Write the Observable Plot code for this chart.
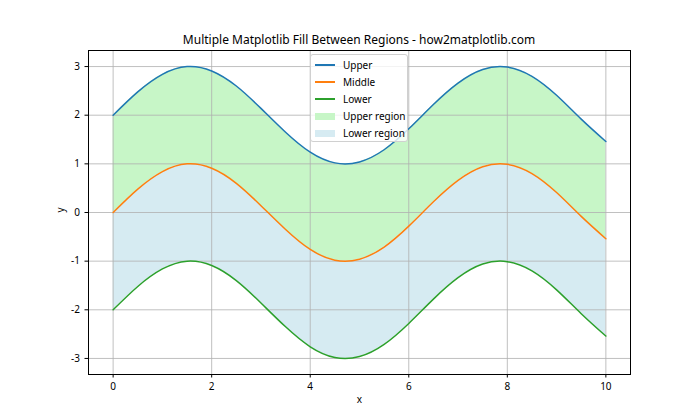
<!DOCTYPE html>
<html><head><meta charset="utf-8">
<script src="https://cdn.jsdelivr.net/npm/d3@7"></script>
<script src="https://cdn.jsdelivr.net/npm/@observablehq/plot@0.6"></script>
<style>
body{margin:0;background:#fff;font-family:"Noto Sans",sans-serif;}
#wrap{position:relative;width:700px;height:420px;}
#title{height:50px;width:700px;box-sizing:border-box;padding-left:88px;padding-right:70px;text-align:center;font-size:12px;line-height:12px;padding-top:34px;color:#000;}
#legend{position:absolute;left:310px;top:54px;width:98px;height:88px;box-sizing:border-box;border:1px solid #d0d0d0;border-radius:3px;background:rgba(255,255,255,0.8);font-size:10px;color:#000;}
.row{position:absolute;left:4px;height:12px;display:flex;align-items:center;white-space:nowrap;}
.sw{width:20px;margin-right:8px;}
</style></head>
<body><div id="wrap"><div id="title">Multiple Matplotlib Fill Between Regions - how2matplotlib.com</div><div id="chart"></div>
<div id="legend"></div></div>
<script>
const xs =     [0, 0.5, 1, 1.5, 2, 2.5, 3, 3.5, 4, 4.5, 5, 5.5, 6, 6.5, 7, 7.5, 8, 8.5, 9, 9.5, 10];
const middle = [0, 0.48, 0.84, 1.0, 0.91, 0.6, 0.14, -0.35, -0.76, -0.98, -0.96, -0.71, -0.28, 0.22, 0.66, 0.94, 0.99, 0.8, 0.41, -0.08, -0.54];
const upper =  [2, 2.48, 2.84, 3.0, 2.91, 2.6, 2.14, 1.65, 1.24, 1.02, 1.04, 1.29, 1.72, 2.22, 2.66, 2.94, 2.99, 2.8, 2.41, 1.92, 1.46];
const lower =  [-2, -1.52, -1.16, -1.0, -1.09, -1.4, -1.86, -2.35, -2.76, -2.98, -2.96, -2.71, -2.28, -1.78, -1.34, -1.06, -1.01, -1.2, -1.59, -2.08, -2.54];
const xTicks = [0, 2, 4, 6, 8, 10];
const yTicks = [-3, -2, -1, 0, 1, 2, 3];
const seriesNames = ["Upper", "Middle", "Lower"];
const regionNames = ["Upper region", "Lower region"];

const colors = {Upper:"#1f77b4", Middle:"#ff7f0e", Lower:"#2ca02c", "Upper region":"#c7f6c7", "Lower region":"#d6ebf2"};
const rows = xs.map((x,i)=>({x, upper:upper[i], middle:middle[i], lower:lower[i]}));
const curve = "natural";

const plot = Plot.plot({
  width:700, height:370,
  marginTop:0, marginBottom:46, marginLeft:88, marginRight:70,
  style:{fontFamily:"Noto Sans, sans-serif", fontSize:"10px", color:"#000"},
  x:{domain:[-0.5,10.5]},
  y:{domain:[-3.33,3.33]},
  marks:[
    Plot.areaY(rows,{x:"x", y1:"middle", y2:"upper", fill:colors["Upper region"], curve}),
    Plot.areaY(rows,{x:"x", y1:"lower", y2:"middle", fill:colors["Lower region"], curve}),
    Plot.gridX(xTicks,{stroke:"#b0b0b0", strokeOpacity:1, strokeWidth:0.8}),
    Plot.gridY(yTicks,{stroke:"#b0b0b0", strokeOpacity:1, strokeWidth:0.8}),
    Plot.line(rows,{x:"x", y:"upper", stroke:colors.Upper, strokeWidth:1.5, curve}),
    Plot.line(rows,{x:"x", y:"middle", stroke:colors.Middle, strokeWidth:1.5, curve}),
    Plot.line(rows,{x:"x", y:"lower", stroke:colors.Lower, strokeWidth:1.5, curve}),
    Plot.frame({stroke:"#000", strokeWidth:1}),
    Plot.axisX({ticks:xTicks, tickFormat:d=>String(d), label:null, tickSize:3.5, tickPadding:5}),
    Plot.axisY({ticks:yTicks, tickFormat:d=>String(d), label:null, tickSize:3.5, tickPadding:5}),
    Plot.text(["x"],{frameAnchor:"bottom", dy:28, text:d=>d, fontSize:10}),
    Plot.text(["y"],{frameAnchor:"left", dx:-28, rotate:-90, text:d=>d, fontSize:10})
  ]
});
document.getElementById("chart").appendChild(plot);

const leg = document.getElementById("legend");
const items = [...seriesNames.map(n=>({n,line:true})), ...regionNames.map(n=>({n,line:false}))];
items.forEach((it,i)=>{
  const r=document.createElement("div"); r.className="row"; r.style.top=(4+i*17)+"px";
  const s=document.createElement("div"); s.className="sw";
  if(it.line){ s.style.height="1.5px"; s.style.background=colors[it.n]; }
  else { s.style.height="7px"; s.style.background=colors[it.n]; }
  r.appendChild(s); const t=document.createElement("span"); t.textContent=it.n; r.appendChild(t);
  leg.appendChild(r);
});
</script></body></html>
